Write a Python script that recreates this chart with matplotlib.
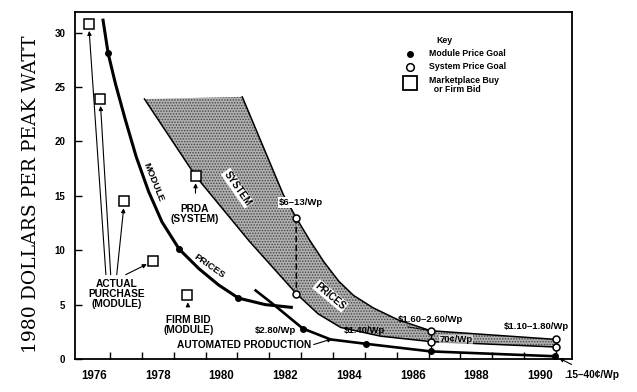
import numpy as np
import matplotlib.pyplot as plt
from matplotlib.ticker import FixedLocator

plt.rcParams['font.family'] = ['Liberation Sans', 'DejaVu Sans']
plt.rcParams['font.weight'] = 'bold'
plt.rcParams['hatch.linewidth'] = 0.7

# module price curve, 1980 dollars per peak watt
module_years = [1976.28, 1976.44, 1976.67, 1976.97, 1977.32, 1977.71, 1978.13,
                1978.67, 1979.29, 1979.91, 1980.53, 1981.37, 1982.19]
module_prices = [31.15, 28.1, 25.3, 22.1, 18.6, 15.4, 12.6,
                 10.1, 8.3, 6.8, 5.6, 5.0, 4.75]

# automated production curve
auto_years = [1981.07, 1981.68, 1982.55, 1983.42, 1984.52, 1986.56, 1990.48]
auto_prices = [6.3, 4.9, 2.8, 1.8, 1.4, 0.7, 0.25]

# price goals
module_goal_years = [1976.44, 1978.67, 1980.53, 1982.55, 1984.52, 1986.56, 1990.48]
module_goal_prices = [28.1, 10.1, 5.6, 2.8, 1.4, 0.7, 0.25]
system_goal_years = [1982.34, 1982.35, 1986.56, 1986.56, 1990.5, 1990.5]
system_goal_prices = [13.0, 6.0, 2.6, 1.6, 1.8, 1.1]

# system price band (upper and lower edges)
band_upper_years = [1977.58, 1980.65, 1981.94, 1982.34, 1982.76, 1983.22,
                    1983.68, 1984.14, 1984.76, 1985.54, 1986.56, 1990.5]
band_upper_prices = [23.9, 24.1, 15.1, 13.0, 10.95, 8.9,
                     7.15, 5.85, 4.7, 3.6, 2.6, 1.8]
band_lower_years = [1977.58, 1979.19, 1980.88, 1982.35, 1983.03, 1983.74,
                    1984.99, 1986.56, 1990.5]
band_lower_prices = [23.9, 16.8, 10.8, 6.0, 4.15, 2.9, 2.1, 1.6, 1.1]

# marketplace buys / firm bids
buy_years = [1975.83, 1976.19, 1976.95, 1977.85, 1978.93, 1979.19]
buy_prices = [30.8, 23.9, 14.5, 9.0, 5.85, 16.8]

year_labels = [1976, 1978, 1980, 1982, 1984, 1986, 1988, 1990]
price_ticks = [0, 5, 10, 15, 20, 25, 30]

fig = plt.figure(figsize=(6.37, 3.92), dpi=100)
ax = fig.add_axes([75 / 637, 33 / 392, 497 / 637, 347 / 392])
ax.set_xlim(1975.4, 1991.0)
ax.set_ylim(0, 31.9)

# shaded system band
bx = band_upper_years + band_lower_years[::-1]
by = band_upper_prices + band_lower_prices[::-1]
ax.fill(bx, by, facecolor='#b0b0b0', edgecolor='#444444', hatch='......',
        linewidth=0, zorder=1)
ax.plot(band_upper_years[1:], band_upper_prices[1:], color='black', lw=1.1,
        solid_joinstyle='round', zorder=2)
ax.plot(band_lower_years, band_lower_prices, color='black', lw=1.1,
        solid_joinstyle='round', zorder=2)

# price curves
ax.plot(module_years, module_prices, color='black', lw=2.2,
        solid_joinstyle='round', zorder=3)
ax.plot(auto_years, auto_prices, color='black', lw=1.9,
        solid_joinstyle='round', zorder=3)

# goal connectors
ax.plot(system_goal_years[:2], system_goal_prices[:2], color='black', lw=1.1,
        ls=(0, (4, 2)), zorder=3)
ax.plot([1986.56, 1986.56], [2.6, 0.7], color='black', lw=1.0, zorder=3)
ax.plot([1990.5, 1990.5], [1.8, 0.25], color='black', lw=1.0, zorder=3)

ax.plot(module_goal_years, module_goal_prices, ls='none', marker='o', ms=4,
        color='black', zorder=5)
ax.plot(system_goal_years, system_goal_prices, ls='none', marker='o', ms=5,
        mfc='white', mec='black', mew=1.1, zorder=5)
ax.plot(buy_years, buy_prices, ls='none', marker='s', ms=7.5, mfc='white',
        mec='black', mew=1.1, zorder=5)

arrow = dict(arrowstyle='-|>', color='black', lw=0.8, mutation_scale=6,
             shrinkA=0, shrinkB=5)
fs = 7.3
vs = 6.8

# actual purchase annotations
ax.text(1976.70, 6.0, 'ACTUAL\nPURCHASE\n(MODULE)', ha='center', va='center',
        fontsize=fs, linespacing=1.0, zorder=6)
for sx, tx, ty in [(1976.37, buy_years[0], buy_prices[0]),
                   (1976.52, buy_years[1], buy_prices[1]),
                   (1976.71, buy_years[2], buy_prices[2]),
                   (1976.99, buy_years[3], buy_prices[3])]:
    ax.annotate('', xy=(tx, ty), xytext=(sx, 7.75), arrowprops=arrow)

ax.annotate('FIRM BID\n(MODULE)', xy=(buy_years[4], buy_prices[4]),
            xytext=(1978.97, 3.1), ha='center', va='center', fontsize=fs,
            linespacing=1.0,
            arrowprops=dict(arrow, shrinkA=6))
ax.annotate('PRDA\n(SYSTEM)', xy=(buy_years[5], buy_prices[5]),
            xytext=(1979.17, 13.3), ha='center', va='center', fontsize=fs,
            linespacing=1.0,
            arrowprops=dict(arrow, shrinkA=6))
ax.annotate('AUTOMATED PRODUCTION', xy=(1983.47, 1.85), xytext=(1980.70, 1.25),
            ha='center', va='center', fontsize=fs,
            arrowprops=dict(arrow, shrinkA=0, shrinkB=0,
                            relpos=(1.0, 0.5)))
ax.annotate('.15\u201340\u00a2/Wp', xy=(module_goal_years[6], module_goal_prices[6]),
            xytext=(1991.62, -1.45), ha='center', va='center', fontsize=7.3,
            annotation_clip=False,
            arrowprops=dict(arrow, shrinkA=4, shrinkB=3))

# curve labels
ax.text(1977.86, 16.3, 'MODULE', rotation=-68, ha='center', va='center',
        fontsize=6.8, zorder=6)
ax.text(1979.62, 8.5, 'PRICES', rotation=-35, ha='center', va='center',
        fontsize=6.8, zorder=6)
box = dict(facecolor='white', edgecolor='none', pad=0.6)
ax.text(1980.50, 15.7, 'SYSTEM', rotation=-55, ha='center', va='center',
        fontsize=7, bbox=box, zorder=6)
ax.text(1983.42, 5.8, 'PRICES', rotation=-40, ha='center', va='center',
        fontsize=7, bbox=box, zorder=6)

# goal values
ax.text(1982.50, 14.4, '$6\u201313/Wp', ha='center', va='center', fontsize=vs,
        bbox=box, zorder=6)
ax.text(1981.70, 2.66, '$2.80/Wp', ha='center', va='center', fontsize=vs, zorder=6)
ax.text(1984.50, 2.62, '$1.40/Wp', ha='center', va='center', fontsize=vs, zorder=6)
ax.text(1986.57, 3.6, '$1.60\u20132.60/Wp', ha='center', va='center', fontsize=vs,
        zorder=6)
ax.plot([1985.85, 1986.56], [2.95, 2.6], color='black', lw=0.7, zorder=4)
ax.text(1987.35, 1.75, '70\u00a2/Wp', ha='center', va='center', fontsize=vs,
        bbox=dict(facecolor='white', edgecolor='none', pad=0.3, alpha=0.6),
        zorder=6)
ax.text(1989.87, 2.95, '$1.10\u20131.80/Wp', ha='center', va='center', fontsize=vs,
        zorder=6)

# key
kx, tx = 0.675, 0.713
ax.text(0.728, 0.918, 'Key', transform=ax.transAxes, fontsize=6.3, va='center')
ax.plot([kx], [0.88], transform=ax.transAxes, marker='o', ms=4, color='black')
ax.text(tx, 0.88, 'Module Price Goal', transform=ax.transAxes, fontsize=6.3,
        va='center')
ax.plot([kx], [0.842], transform=ax.transAxes, marker='o', ms=5.5, mfc='white',
        mec='black', mew=1.1)
ax.text(tx, 0.842, 'System Price Goal', transform=ax.transAxes, fontsize=6.3,
        va='center')
ax.plot([kx], [0.795], transform=ax.transAxes, marker='s', ms=9.5, mfc='white',
        mec='black', mew=1.3)
ax.text(tx, 0.79, 'Marketplace Buy\n  or Firm Bid', transform=ax.transAxes,
        fontsize=6.3, va='center', linespacing=1.0)

# axes
for s in ax.spines.values():
    s.set_linewidth(1.3)
ax.set_yticks(price_ticks)
ax.tick_params(axis='y', direction='in', length=5, width=1, labelsize=7, pad=7)
ax.set_xticks(year_labels)
ax.xaxis.set_minor_locator(FixedLocator(np.arange(1976.5, 1991, 1.0)))
ax.tick_params(axis='x', which='major', length=0, labelsize=8.3, pad=8)
ax.tick_params(axis='x', which='minor', direction='in', length=5, width=1)

fig.text(0.049, 0.505, '1980 DOLLARS PER PEAK WATT', rotation=90, ha='center',
         va='center', fontsize=13.5, fontfamily='DejaVu Serif',
         fontweight='normal')

fig.savefig('out.png', dpi=100)
